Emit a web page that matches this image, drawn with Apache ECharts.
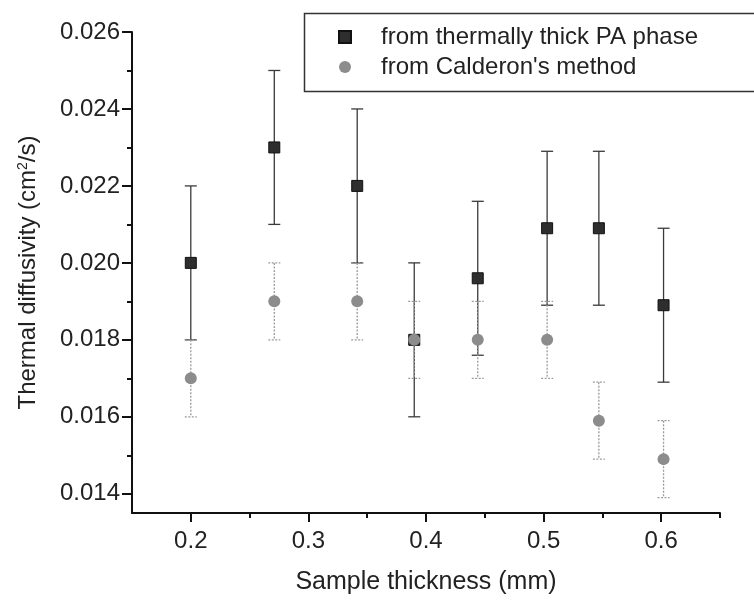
<!DOCTYPE html>
<html>
<head>
<meta charset="utf-8">
<script src="https://cdn.jsdelivr.net/npm/echarts@6/dist/echarts.min.js"></script>
<style>html,body{margin:0;padding:0;background:#fff}#c{width:754px;height:601px}</style>
</head>
<body>
<div id="c"></div>
<script>
// ---- data ----
const thickness = [0.2, 0.271, 0.3415, 0.39, 0.444, 0.503, 0.547, 0.602];
const phaseValues = [0.0200, 0.0230, 0.0220, 0.0180, 0.0196, 0.0209, 0.0209, 0.0189];
const phaseErrors = [0.002, 0.002, 0.002, 0.002, 0.002, 0.002, 0.002, 0.002];
const calderonValues = [0.0170, 0.0190, 0.0190, 0.0180, 0.0180, 0.0180, 0.0159, 0.0149];
const calderonErrors = [0.001, 0.001, 0.001, 0.001, 0.001, 0.001, 0.001, 0.001];
const seriesNames = ['from thermally thick PA phase', "from Calderon's method"];
const xMajorTicks = [0.2, 0.3, 0.4, 0.5, 0.6];
const xMinorTicks = [0.25, 0.35, 0.45, 0.55, 0.65];
const yMajorTicks = [0.014, 0.016, 0.018, 0.020, 0.022, 0.024, 0.026];
const yMinorTicks = [0.015, 0.017, 0.019, 0.021, 0.023, 0.025];

const FONT = '"Liberation Sans", Arial, sans-serif';
const TXT = '#222';

function errData(vals, errs) {
  return thickness.map((x, i) => [x, vals[i] - errs[i], vals[i] + errs[i]]);
}
function errRender(color, dash) {
  return function (params, api) {
    const x = api.value(0), lo = api.value(1), hi = api.value(2);
    const t = api.coord([x, hi]), b = api.coord([x, lo]);
    const hw = 6;
    const st = {stroke: color, lineWidth: 1.3, lineDash: dash};
    return {type: 'group', children: [
      {type: 'line', shape: {x1: t[0], y1: t[1], x2: b[0], y2: b[1]}, style: st},
      {type: 'line', shape: {x1: t[0] - hw, y1: t[1], x2: t[0] + hw, y2: t[1]}, style: st},
      {type: 'line', shape: {x1: b[0] - hw, y1: b[1], x2: b[0] + hw, y2: b[1]}, style: st}
    ]};
  };
}

const chart = echarts.init(document.getElementById('c'), null, {renderer: 'canvas'});
const xMin = 0.15, xMax = 0.65, yMin = 0.0135, yMax = 0.026;
chart.setOption({
  animation: false,
  backgroundColor: '#fff',
  grid: {left: 132, right: 34, top: 32, bottom: 88},
  graphic: [{
    type: 'rect', left: 302, top: 11,
    shape: {width: 470, height: 78},
    style: {fill: 'none', stroke: '#333', lineWidth: 1.5}, z: 100
  }],
  legend: {
    data: seriesNames,
    orient: 'vertical', left: 333, top: 20,
    itemWidth: 12, itemHeight: 12, itemGap: 6,
    textStyle: {fontFamily: FONT, fontSize: 24, color: TXT, lineHeight: 22, padding: [0, 0, 0, 25]}
  },
  xAxis: [{
    type: 'value', min: xMin, max: xMax,
    name: 'Sample thickness (mm)', nameLocation: 'middle', nameGap: 57,
    nameTextStyle: {fontFamily: FONT, fontSize: 25, color: TXT},
    axisLine: {show: true, lineStyle: {color: '#111', width: 2}},
    axisTick: {show: true, length: 9, lineStyle: {color: '#111', width: 2}, customValues: xMajorTicks},
    axisLabel: {show: true, margin: 16, fontFamily: FONT, fontSize: 24, color: TXT,
      customValues: xMajorTicks, formatter: v => v.toFixed(1)},
    splitLine: {show: false}
  }, {
    type: 'value', min: xMin, max: xMax, position: 'bottom',
    axisLine: {show: false},
    axisTick: {show: true, length: 5, lineStyle: {color: '#111', width: 2}, customValues: xMinorTicks},
    axisLabel: {show: false}, splitLine: {show: false}
  }],
  yAxis: [{
    type: 'value', min: yMin, max: yMax,
    name: 'Thermal diffusivity (cm{sup|2}/s)', nameLocation: 'middle', nameGap: 92, nameRotate: 90,
    nameTextStyle: {fontFamily: FONT, fontSize: 24, color: TXT,
      rich: {sup: {fontFamily: FONT, fontSize: 14, color: TXT, verticalAlign: 'top', padding: [0, 0, 10, 0]}}},
    axisLine: {show: true, lineStyle: {color: '#111', width: 2}},
    axisTick: {show: true, length: 10, lineStyle: {color: '#111', width: 2}, customValues: yMajorTicks},
    axisLabel: {show: true, margin: 12, fontFamily: FONT, fontSize: 24, color: TXT,
      customValues: yMajorTicks, formatter: v => v.toFixed(3)},
    splitLine: {show: false}
  }, {
    type: 'value', min: yMin, max: yMax, position: 'left',
    axisLine: {show: false},
    axisTick: {show: true, length: 5, lineStyle: {color: '#111', width: 2}, customValues: yMinorTicks},
    axisLabel: {show: false}, splitLine: {show: false}
  }],
  series: [
    {
      type: 'custom', name: 'phaseErr', renderItem: errRender('#3a3a3a', null),
      data: errData(phaseValues, phaseErrors), encode: {x: 0, y: [1, 2]}, z: 2, silent: true
    },
    {
      type: 'scatter', name: seriesNames[0], symbol: 'rect', symbolSize: 11,
      itemStyle: {color: '#2e2e2e', borderColor: '#111', borderWidth: 1, opacity: 1},
      data: thickness.map((x, i) => [x, phaseValues[i]]), z: 3
    },
    {
      type: 'custom', name: 'calErr', renderItem: errRender('#9a9a9a', [2, 1.5]),
      data: errData(calderonValues, calderonErrors), encode: {x: 0, y: [1, 2]}, z: 4, silent: true
    },
    {
      type: 'scatter', name: seriesNames[1], symbol: 'circle', symbolSize: 12,
      itemStyle: {color: '#8c8c8c', opacity: 1},
      data: thickness.map((x, i) => [x, calderonValues[i]]), z: 5
    }
  ]
});
</script>
</body>
</html>
